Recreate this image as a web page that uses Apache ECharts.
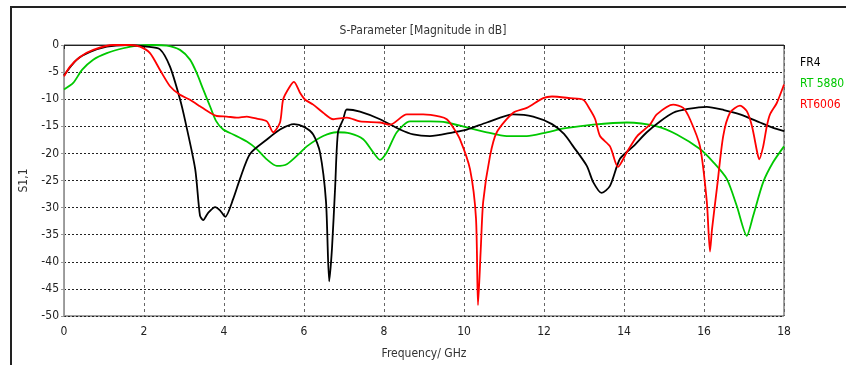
<!DOCTYPE html>
<html>
<head>
<meta charset="utf-8">
<script src="https://cdn.jsdelivr.net/npm/echarts@6/dist/echarts.min.js"></script>
<style>
  html, body { margin: 0; padding: 0; background: #fff; }
  #chart { width: 846px; height: 365px; }
</style>
</head>
<body>
<div id="chart"></div>
<script>
// 频率刻度 / 纵轴刻度
const freqTicks = [0, 2, 4, 6, 8, 10, 12, 14, 16, 18];
const dbTicks = [0, -5, -10, -15, -20, -25, -30, -35, -40, -45, -50];

// FR4
const fr4Freq = [0, 0.32, 0.65, 1.07, 1.57, 2.07, 2.4, 2.65, 2.9, 3.03, 3.28, 3.4, 3.48, 3.6, 3.78, 3.9, 4.03, 4.23, 4.4, 4.65,
  5.08, 5.4, 5.75, 6.0, 6.23, 6.4, 6.55, 6.63, 6.7, 6.78, 6.85, 6.98, 7.07, 7.4, 7.9, 8.4, 8.73, 9.15, 9.73, 10.07,
  10.57, 11.23, 11.73, 12.2, 12.5, 12.73, 13.07, 13.23, 13.44, 13.65, 13.9, 14.23, 14.57, 14.9, 15.23, 15.6, 16.07, 16.5, 16.9, 17.4,
  17.7, 18];
const fr4Db = [-5.6, -2.7, -1.3, -0.3, 0, -0.3, -0.8, -4, -10, -14, -22.9, -31.5, -32.3, -31, -29.9, -30.5, -31.7, -28.4, -24.7, -20.1,
  -17.4, -15.6, -14.6, -15.1, -16.5, -19.8, -28.9, -43.6, -37.5, -26, -16.1, -13.7, -11.9, -12.3, -13.7, -15.6, -16.5, -16.8, -16.1, -15.6,
  -14.3, -12.8, -13.2, -14.6, -16.4, -18.7, -22.3, -25.3, -27.3, -26, -21, -18.7, -16.1, -14.1, -12.5, -11.8, -11.4, -12, -12.8, -14.3,
  -15.2, -15.9];

// RT 5880
const rt5880Freq = [0, 0.23, 0.45, 0.73, 1.07, 1.48, 1.82, 2.2, 2.57, 2.9, 3.15, 3.32, 3.48, 3.65, 3.8, 3.98, 4.23, 4.57, 4.82, 5.07,
  5.32, 5.57, 5.9, 6.07, 6.48, 6.82, 7.15, 7.48, 7.73, 7.9, 8.07, 8.32, 8.65, 9.15, 9.57, 10.07, 10.57, 11.07, 11.57, 12.07,
  12.5, 13.23, 14.07, 14.82, 15.32, 15.9, 16.23, 16.57, 16.82, 17.07, 17.23, 17.48, 17.73, 18];
const rt5880Db = [-8.2, -7, -4.6, -2.7, -1.5, -0.6, -0.1, 0, -0.1, -0.9, -2.7, -5.2, -8.2, -11.3, -14, -15.6, -16.5, -17.8, -19.2, -21.1,
  -22.3, -22, -19.9, -18.7, -16.8, -16.1, -16.3, -17.4, -19.8, -21.2, -19.8, -16.1, -14.1, -14.1, -14.3, -15.2, -16.1, -16.8, -16.8, -16.1,
  -15.4, -14.7, -14.3, -15, -16.5, -19.2, -21.6, -24.7, -29.7, -35.2, -31.5, -25.3, -21.6, -18.7];

// RT6006
const rt6006Freq = [0, 0.15, 0.4, 0.73, 1.23, 1.65, 1.9, 2.15, 2.4, 2.65, 2.9, 3.15, 3.4, 3.65, 3.82, 4.07, 4.32, 4.57, 4.82, 5.07,
  5.23, 5.4, 5.48, 5.65, 5.75, 5.9, 6.03, 6.23, 6.48, 6.73, 7.07, 7.4, 7.9, 8.15, 8.57, 8.98, 9.4, 9.57, 9.73, 9.9,
  10.15, 10.3, 10.35, 10.42, 10.48, 10.65, 10.82, 11.23, 11.57, 11.98, 12.2, 12.65, 12.98, 13.15, 13.28, 13.4, 13.65, 13.85, 14.07, 14.33,
  14.65, 14.82, 15.23, 15.48, 15.65, 15.9, 16.07, 16.15, 16.2, 16.33, 16.48, 16.65, 16.9, 17.07, 17.2, 17.33, 17.38, 17.48, 17.57, 17.65,
  17.82, 18];
const rt6006Db = [-5.8, -4, -2.2, -0.9, 0, 0, -0.3, -1.5, -4.6, -7.6, -9.2, -10.1, -11.3, -12.5, -13.1, -13.2, -13.4, -13.2, -13.6, -14.1,
  -16.1, -14.3, -10, -7.6, -6.8, -8.8, -10.1, -11, -12.5, -13.7, -13.4, -14.1, -14.3, -14.7, -12.8, -12.8, -13.2, -13.7, -15.2, -17.4,
  -22.9, -32, -48, -37.5, -28.9, -20.5, -16.1, -12.5, -11.6, -9.8, -9.5, -9.8, -10.1, -11.9, -13.7, -16.8, -18.7, -22.5, -19.8, -16.8,
  -14.7, -12.8, -11, -11.6, -13.7, -18.7, -28.9, -38.1, -34, -26, -16.8, -12.5, -11.2, -12.2, -15, -19.8, -21.1, -18.7, -15, -12.8,
  -10.7, -7.3];

const seriesNames = ['FR4', 'RT 5880', 'RT6006'];
const seriesColors = ['#000000', '#00c800', '#ff0000'];

const pairs = (xs, ys) => xs.map((x, i) => [x, ys[i]]);
const seriesData = [pairs(fr4Freq, fr4Db), pairs(rt5880Freq, rt5880Db), pairs(rt6006Freq, rt6006Db)];

const font = '"DejaVu Sans Condensed", "Liberation Sans", sans-serif';
const chart = echarts.init(document.getElementById('chart'));

// 画的顺序：绿、黑、红
const drawOrder = [1, 0, 2];

chart.setOption({
  animation: false,
  backgroundColor: '#fff',
  textStyle: { fontFamily: font },
  title: {
    text: 'S-Parameter [Magnitude in dB]',
    left: 'center',
    top: 20,
    textStyle: { fontSize: 12, fontWeight: 'normal', color: '#333', fontFamily: font }
  },
  legend: {
    orient: 'vertical',
    left: 790,
    top: 51,
    icon: 'none',
    itemWidth: 0,
    itemHeight: 14,
    itemGap: 8,
    selectedMode: false,
    data: seriesNames.map((n, i) => ({ name: n, textStyle: { color: seriesColors[i], fontSize: 12, fontFamily: font } }))
  },
  graphic: [
    { type: 'line', shape: { x1: 10, y1: 7, x2: 846, y2: 7 }, style: { stroke: '#222', lineWidth: 2 } },
    { type: 'line', shape: { x1: 11, y1: 7, x2: 11, y2: 365 }, style: { stroke: '#222', lineWidth: 2 } }
  ],
  grid: {
    left: 64, top: 45, right: 62, bottom: 47,
    show: true, borderColor: '#444', borderWidth: 1
  },
  xAxis: {
    type: 'value',
    min: freqTicks[0],
    max: freqTicks[freqTicks.length - 1],
    interval: 2,
    name: 'Frequency/ GHz',
    nameLocation: 'middle',
    nameGap: 32,
    nameTextStyle: { fontSize: 12, color: '#333', fontFamily: font },
    axisLine: { lineStyle: { color: '#222', width: 1 } },
    axisTick: { show: true, length: 4, lineStyle: { color: '#222' } },
    axisLabel: { fontSize: 12, color: '#222', margin: 10, fontFamily: font },
    splitLine: { show: true, lineStyle: { color: '#666', type: [3, 3], width: 1 } }
  },
  yAxis: {
    type: 'value',
    min: dbTicks[dbTicks.length - 1],
    max: dbTicks[0],
    interval: 5,
    name: 'S1,1',
    nameLocation: 'middle',
    nameGap: 34,
    nameTextStyle: { fontSize: 12, color: '#333', fontFamily: font },
    axisLine: { show: true, lineStyle: { color: '#999', width: 1 } },
    axisTick: { show: true, length: 3, lineStyle: { color: '#999' } },
    axisLabel: { fontSize: 12, color: '#222', margin: 5, fontFamily: font },
    splitLine: { show: true, lineStyle: { color: '#222', type: [2, 2], width: 1 } }
  },
  series: drawOrder.map(i => ({
    name: seriesNames[i],
    type: 'line',
    data: seriesData[i],
    showSymbol: false,
    smooth: 0.25,
    color: seriesColors[i],
    lineStyle: { width: 1.8, color: seriesColors[i] }
  }))
});
</script>
</body>
</html>
